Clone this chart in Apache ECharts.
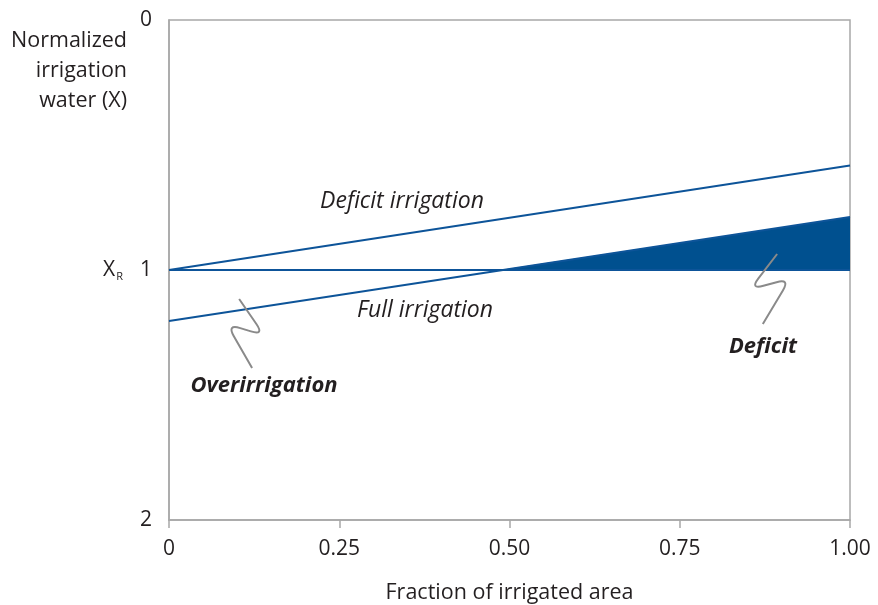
<!DOCTYPE html>
<html>
<head>
<meta charset="utf-8">
<script src="https://cdn.jsdelivr.net/npm/echarts@6/dist/echarts.min.js"></script>
<style>html,body{margin:0;padding:0;background:#fff}#c{width:878px;height:605px}</style>
</head>
<body>
<div id="c"></div>
<script>
// ---- data ----
const xTicks = [0, 0.25, 0.5, 0.75, 1.0];
const xTickLabels = ['0', '0.25', '0.50', '0.75', '1.00'];
const yTickLabels = ['0', '1', '2'];
const deficitIrrigation = [[0, 1.0], [1, 0.582]];
const fullIrrigation = [[0, 1.204], [1, 0.788]];
const xrLine = [[0, 1.0], [1, 1.0]];
const deficitArea = [[0.486, 1.0], [1, 0.788], [1, 1.0]];
const squiggleDeficit = [[0.893, 0.936], [0.853, 1.078], [0.912, 1.034], [0.872, 1.216]];
const squiggleOver = [[0.103, 1.116], [0.140, 1.262], [0.085, 1.216], [0.122, 1.392]];
const labels = {
  yName: 'Normalized\nirrigation\nwater (X)',
  xName: 'Fraction of irrigated area',
  deficitIrr: 'Deficit irrigation',
  fullIrr: 'Full irrigation',
  over: 'Overirrigation',
  deficit: 'Deficit'
};

const FONT = 'Open Sans';
const TXT = '#231f20';
const BLUE = '#0d5499';
const FILL = '#00508f';
const GRAY = '#a8a8a8';
const SQ = '#8a8a8a';

// rounded polyline path through pixel points
function roundedPath(pts, r) {
  let d = 'M' + pts[0][0] + ' ' + pts[0][1];
  for (let i = 1; i < pts.length - 1; i++) {
    const p = pts[i], a = pts[i - 1], b = pts[i + 1];
    const la = Math.hypot(a[0] - p[0], a[1] - p[1]);
    const lb = Math.hypot(b[0] - p[0], b[1] - p[1]);
    const ra = Math.min(r, la / 2), rb = Math.min(r, lb / 2);
    const s = [p[0] + (a[0] - p[0]) * ra / la, p[1] + (a[1] - p[1]) * ra / la];
    const e = [p[0] + (b[0] - p[0]) * rb / lb, p[1] + (b[1] - p[1]) * rb / lb];
    d += ' L' + s[0] + ' ' + s[1] + ' Q' + p[0] + ' ' + p[1] + ' ' + e[0] + ' ' + e[1];
  }
  const last = pts[pts.length - 1];
  d += ' L' + last[0] + ' ' + last[1];
  return d;
}
function squiggleSeries(arr) {
  return {
    type: 'custom', data: arr, silent: true, z: 3,
    renderItem: (params, api) => {
      if (params.dataIndex !== 0) return null;
      const pts = arr.map(p => api.coord(p));
      return { type: 'path', shape: { pathData: roundedPath(pts, 14) }, style: { stroke: SQ, lineWidth: 2, fill: null } };
    }
  };
}

const chart = echarts.init(document.getElementById('c'));
chart.setOption({
  animation: false,
  grid: { left: 169, right: 28, top: 20, bottom: 85, outerBoundsMode: 'none', containLabel: false, show: true, borderColor: GRAY, borderWidth: 1.5 },
  xAxis: {
    type: 'value', min: 0, max: 1, interval: 0.25,
    name: labels.xName, nameLocation: 'middle', nameGap: 62,
    nameTextStyle: { fontFamily: FONT, fontSize: 21.5, color: TXT },
    axisLine: { show: true, onZero: false, lineStyle: { color: GRAY, width: 1.5 } },
    axisTick: { show: true, length: 8, lineStyle: { color: GRAY, width: 1.5 } },
    splitLine: { show: false },
    axisLabel: {
      margin: 19, fontFamily: FONT, fontSize: 21, color: TXT,
      formatter: v => { const i = xTicks.indexOf(v); return i >= 0 ? xTickLabels[i] : ''; }
    }
  },
  yAxis: {
    type: 'value', min: 0, max: 2, interval: 1, inverse: true,
    axisLine: { show: true, onZero: false, lineStyle: { color: GRAY, width: 1.5 } },
    axisTick: { show: false },
    splitLine: { show: false },
    axisLabel: {
      margin: 17, fontFamily: FONT, fontSize: 21, color: TXT,
      formatter: v => v === 1 ? '{x|X}{r|R}{sp|}' + yTickLabels[1] : yTickLabels[v],
      rich: {
        x: { fontFamily: FONT, fontSize: 21, color: TXT, verticalAlign: 'bottom' },
        r: { fontFamily: FONT, fontSize: 11, color: TXT, verticalAlign: 'bottom', padding: [0, 0, -2, 1] },
        sp: { width: 17 }
      }
    }
  },
  series: [
    {
      type: 'custom',
      data: deficitArea,
      silent: true,
      renderItem: (params, api) => {
        if (params.dataIndex !== 0) return null;
        const pts = deficitArea.map(p => api.coord(p));
        return { type: 'polygon', shape: { points: pts }, style: { fill: FILL } };
      },
      z: 1
    },
    { type: 'line', data: xrLine, symbol: 'none', lineStyle: { color: BLUE, width: 2 }, z: 2 },
    { type: 'line', data: deficitIrrigation, symbol: 'none', lineStyle: { color: BLUE, width: 2 }, z: 2 },
    { type: 'line', data: fullIrrigation, symbol: 'none', lineStyle: { color: BLUE, width: 2 }, z: 2 },
    squiggleSeries(squiggleDeficit),
    squiggleSeries(squiggleOver)
  ],
  graphic: [
    { type: 'text', x: 127, y: 26, style: { text: labels.yName, fontFamily: FONT, fontSize: 21.5, lineHeight: 30, fill: TXT, align: 'right' } },
    { type: 'text', x: 402, y: 201, style: { text: labels.deficitIrr, fontFamily: FONT, fontSize: 23, fontStyle: 'italic', fill: TXT, align: 'center', verticalAlign: 'middle' } },
    { type: 'text', x: 425, y: 310, style: { text: labels.fullIrr, fontFamily: FONT, fontSize: 23, fontStyle: 'italic', fill: TXT, align: 'center', verticalAlign: 'middle' } },
    { type: 'text', x: 264, y: 386, style: { text: labels.over, fontFamily: FONT, fontSize: 22, fontStyle: 'italic', fontWeight: 'bold', fill: TXT, align: 'center', verticalAlign: 'middle' } },
    { type: 'text', x: 763, y: 347, style: { text: labels.deficit, fontFamily: FONT, fontSize: 22, fontStyle: 'italic', fontWeight: 'bold', fill: TXT, align: 'center', verticalAlign: 'middle' } }
  ]
});
</script>
</body>
</html>
